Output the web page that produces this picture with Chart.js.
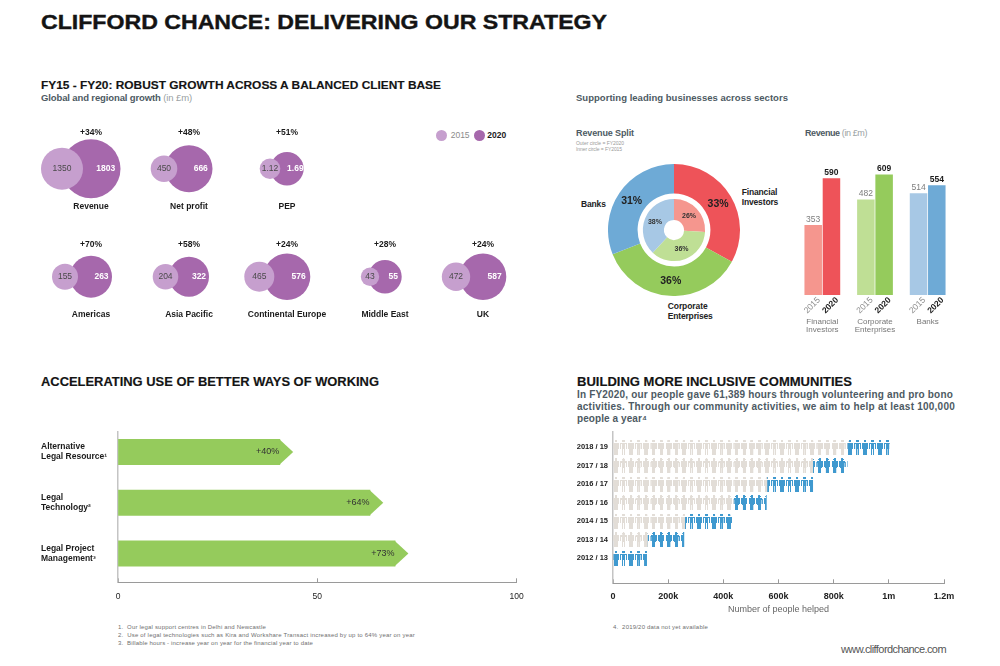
<!DOCTYPE html>
<html>
<head>
<meta charset="utf-8">
<script src="https://cdn.jsdelivr.net/npm/chart.js@4"></script>
<style>
  html, body { margin: 0; background: #fff; }
  #page { position: relative; width: 1000px; height: 666px; overflow: hidden; font-family: "Liberation Sans", sans-serif; }
  canvas { position: absolute; }
  .t { position: absolute; white-space: nowrap; transform: translateY(-50%); line-height: 1; }
  .dot { position: absolute; border-radius: 50%; }
  .light { font-weight: normal; color: #9a9fa3; }
</style>
</head>
<body>
<div id="page"></div>
<script>
// ---- data ----
const bubbleNames = ["Revenue", "Net profit", "PEP", "Americas", "Asia Pacific", "Continental Europe", "Middle East", "UK"];
const growth = [34, 48, 51, 70, 58, 24, 28, 24];
const values2015 = [1350, 450, 1.12, 155, 204, 465, 43, 472];
const values2020 = [1803, 666, 1.69, 263, 322, 576, 55, 587];

const sectors = ["Financial Investors", "Corporate Enterprises", "Banks"];
const splitOuter = [33, 36, 31];
const splitInner = [26, 36, 38];
const sectorYears = ["2015", "2020"];
const revenue2015 = [353, 482, 514];
const revenue2020 = [590, 609, 554];

const workCategories = [["Alternative", "Legal Resource¹"], ["Legal", "Technology²"], ["Legal Project", "Management³"]];
const workPercent = [40, 64, 73];
const workBarEnd = [40.6, 63.2, 69.5];
const workTicks = [0, 50, 100];

const peopleYears = ["2018 / 19", "2017 / 18", "2016 / 17", "2015 / 16", "2014 / 15", "2013 / 14", "2012 / 13"];
const peopleBefore = [849000, 724000, 558000, 437000, 260000, 125000, 0];
const peopleAdded = [153000, 125000, 166000, 119000, 171000, 132000, 122000];

// ---- layout of the bubble pairs (picture pixels) ----
const bubbleCol = [0, 1, 2, 0, 1, 2, 3, 4];
const bubbleRow = [0, 0, 0, 1, 1, 1, 1, 1];
const shift2015 = [29, 25, 17, 26, 23.5, 27.7, 15, 27];
const radius2015 = [21, 13.3, 10.3, 13, 12.8, 15, 9.2, 14.2];
const radius2020 = [29.5, 23.5, 16.7, 21, 20, 23.3, 16.7, 23.3];

const FONT = '"Liberation Sans", sans-serif';
const page = document.getElementById("page");
Chart.defaults.animation = false;
Chart.defaults.responsive = false;
Chart.defaults.font.family = FONT;
Chart.defaults.plugins.legend.display = false;
Chart.defaults.plugins.tooltip.enabled = false;

function txt(x, y, html, size, color, bold, width) {
  const el = document.createElement("div");
  el.className = "t";
  el.style.left = x + "px";
  el.style.top = y + "px";
  el.style.fontSize = size + "px";
  el.style.color = color;
  el.style.fontWeight = bold ? "bold" : "normal";
  el.innerHTML = html;
  page.appendChild(el);
  // original type is tracked wider than Liberation, spread it to the measured width
  if (width) {
    const n = el.textContent.length;
    el.style.letterSpacing = (width - el.getBoundingClientRect().width) / n + "px";
  }
  return el;
}

// the big headings are an extended heavy face: stretch the glyphs instead of tracking
function heading(x, y, text, size, width, stroke) {
  const el = txt(x, y, text, size, "#141414", true);
  const k = width / el.getBoundingClientRect().width;
  el.style.transformOrigin = "left center";
  el.style.transform = `translateY(-50%) scaleX(${k})`;
  el.style.webkitTextStroke = stroke + "px #141414";
}

function dot(cx, cy, r, color) {
  const el = document.createElement("div");
  el.className = "dot";
  el.style.cssText += `left:${cx - r}px;top:${cy - r}px;width:${2 * r}px;height:${2 * r}px;background:${color}`;
  page.appendChild(el);
}

function makeCanvas(left, top, w, h) {
  const c = document.createElement("canvas");
  c.width = w; c.height = h;
  c.style.left = left + "px";
  c.style.top = top + "px";
  c.style.width = w + "px";
  c.style.height = h + "px";
  page.appendChild(c);
  return c;
}

function label(ctx, text, x, y, font, color, align) {
  ctx.save();
  ctx.font = font;
  ctx.fillStyle = color;
  ctx.textAlign = align || "center";
  ctx.textBaseline = "middle";
  ctx.fillText(text, x, y);
  ctx.restore();
}

// ---- headings and notes ----
const BLACK = "#1b1b1b", SLATE = "#4d5a63", NOTE = "#6f6f6f";
heading(41, 21.7, "CLIFFORD CHANCE: DELIVERING OUR STRATEGY", 20.5, 566, 0.4);
heading(41, 86, "FY15 - FY20: ROBUST GROWTH ACROSS A BALANCED CLIENT BASE", 11.5, 400, 0.15);
txt(41, 98.3, 'Global and regional growth <span class="light">(in £m)</span>', 9.5, SLATE, true, 151);
txt(576, 98.3, "Supporting leading businesses across sectors", 9.5, SLATE, true, 212);
txt(576, 132.7, "Revenue Split", 9, SLATE, true, 58);
txt(576, 143, "Outer circle = FY2020", 5, "#9a9a9a", false, 48);
txt(576, 149.3, "Inner circle = FY2015", 5, "#9a9a9a", false, 46);
txt(805, 132.7, 'Revenue <span class="light">(in £m)</span>', 9, SLATE, true, 62);
heading(41, 381.7, "ACCELERATING USE OF BETTER WAYS OF WORKING", 12, 338, 0.15);
heading(577, 382, "BUILDING MORE INCLUSIVE COMMUNITIES", 12, 275, 0.15);
txt(577, 395.3, "In FY2020, our people gave 61,389 hours through volunteering and pro bono", 10, SLATE, true, 376);
txt(577, 407, "activities. Through our community activities, we aim to help at least 100,000", 10, SLATE, true, 378);
txt(577, 419, "people a year⁴", 10, SLATE, true, 70);
txt(118, 626.7, "1.&nbsp; Our legal support centres in Delhi and Newcastle", 6, NOTE, false, 148);
txt(118, 634.6, "2.&nbsp; Use of legal technologies such as Kira and Workshare Transact increased by up to 64% year on year", 6, NOTE, false, 297);
txt(118, 642.5, "3.&nbsp; Billable hours - increase year on year for the financial year to date", 6, NOTE, false, 195);
txt(613, 626.7, "4.&nbsp; 2019/20 data not yet available", 6, NOTE, false, 95);
txt(841, 649, "www.cliffordchance.com", 11, "#555", false, 105);

// ---- growth bubbles ----
const PURPLE_LIGHT = "#c69fce", PURPLE = "#a668ac";
dot(441.7, 135.3, 5.8, PURPLE_LIGHT);
dot(479.3, 135.3, 5.8, PURPLE);
txt(450.7, 135.3, "2015", 8.5, "#8b8b8b", false);
txt(487.3, 135.3, "2020", 8.5, BLACK, true);

const COL_STEP = 98, ROW_STEP = 108;
const bubbleLabels = {
  id: "bubbleLabels",
  afterDatasetsDraw(chart) {
    const ctx = chart.ctx;
    const back = chart.getDatasetMeta(1).data;
    const front = chart.getDatasetMeta(0).data;
    back.forEach((el, i) => {
      const above = bubbleRow[i] === 0 ? 36 : 31.7;
      label(ctx, "+" + growth[i] + "%", el.x, el.y - above, "bold 8.5px " + FONT, BLACK);
      label(ctx, bubbleNames[i], el.x, el.y + 37.5, "bold 8.5px " + FONT, BLACK);
      label(ctx, String(values2020[i]), el.x + radius2020[i] * 0.5, el.y, "bold 8.5px " + FONT, "#fff");
      label(ctx, String(values2015[i]), front[i].x, el.y, "8.5px " + FONT, "#4a4a4a");
    });
  }
};
new Chart(makeCanvas(0, 110, 560, 230), {
  type: "bubble",
  data: {
    datasets: [
      { label: "2015", backgroundColor: PURPLE_LIGHT, borderWidth: 0,
        data: values2015.map((v, i) => ({ x: bubbleCol[i] - shift2015[i] / COL_STEP, y: bubbleRow[i], r: radius2015[i] })) },
      { label: "2020", backgroundColor: PURPLE, borderWidth: 0,
        data: values2020.map((v, i) => ({ x: bubbleCol[i], y: bubbleRow[i], r: radius2020[i] })) }
    ]
  },
  options: {
    layout: { padding: 0, autoPadding: false },
    scales: {
      x: { display: false, min: -91 / COL_STEP, max: (560 - 91) / COL_STEP },
      y: { display: false, reverse: true, min: (110 - 168.7) / ROW_STEP, max: (340 - 168.7) / ROW_STEP }
    }
  },
  plugins: [bubbleLabels]
});

// ---- revenue split doughnut ----
const RED = "#ee5359", RED_L = "#f5968e", GREEN = "#95cb5c", GREEN_L = "#bfdf95", BLUE = "#6eaad6", BLUE_L = "#a7c8e5";
const splitLabels = {
  id: "splitLabels",
  afterDatasetsDraw(chart) {
    chart.getDatasetMeta(0).data.forEach((arc, i) => {
      const p = arc.getProps(["x", "y", "startAngle", "endAngle", "innerRadius", "outerRadius"]);
      const mid = (p.startAngle + p.endAngle) / 2, r = (p.innerRadius + p.outerRadius) / 2;
      label(chart.ctx, splitOuter[i] + "%", p.x + r * Math.cos(mid), p.y + r * Math.sin(mid), "bold 10.5px " + FONT, "#222");
    });
    chart.getDatasetMeta(2).data.forEach((arc, i) => {
      const p = arc.getProps(["x", "y", "startAngle", "endAngle", "innerRadius", "outerRadius"]);
      const mid = (p.startAngle + p.endAngle) / 2, r = (p.innerRadius + p.outerRadius) / 2;
      label(chart.ctx, splitInner[i] + "%", p.x + r * Math.cos(mid), p.y + r * Math.sin(mid), "bold 7px " + FONT, "#333");
    });
  }
};
new Chart(makeCanvas(608, 164, 132, 132), {
  type: "doughnut",
  data: {
    labels: sectors,
    datasets: [
      { data: splitOuter, backgroundColor: [RED, GREEN, BLUE], borderWidth: 0, weight: 29.5 },
      { data: [1], backgroundColor: "rgba(0,0,0,0)", borderWidth: 0, weight: 5.3 },
      { data: splitInner, backgroundColor: [RED_L, GREEN_L, BLUE_L], borderWidth: 0, weight: 21 }
    ]
  },
  options: { cutout: "15.2%", layout: { padding: 0 } },
  plugins: [splitLabels]
});
const SECTOR_INK = "#222";
txt(741.7, 192, "Financial", 8.5, SECTOR_INK, true, 35.5);
txt(741.7, 202, "Investors", 8.5, SECTOR_INK, true, 36.5);
txt(581, 204, "Banks", 8.5, SECTOR_INK, true, 24.7);
txt(667.7, 305.7, "Corporate", 8.5, SECTOR_INK, true, 40);
txt(667.7, 315.7, "Enterprises", 8.5, SECTOR_INK, true, 45);

// ---- revenue bars ----
const barValueLabels = {
  id: "barValueLabels",
  afterDatasetsDraw(chart) {
    const ctx = chart.ctx;
    [0, 1].forEach(ds => {
      const values = ds === 0 ? revenue2015 : revenue2020;
      chart.getDatasetMeta(ds).data.forEach((bar, i) => {
        label(ctx, String(values[i]), bar.x, bar.y - 5.5, (ds ? "bold " : "") + "8.5px " + FONT, ds ? BLACK : "#7d7d7d");
        ctx.save();
        ctx.translate(bar.x - 1, bar.base + 10.5);
        ctx.rotate(-Math.PI / 4);
        label(ctx, sectorYears[ds], 0, 0, (ds ? "bold " : "") + "8.5px " + FONT, ds ? BLACK : "#8b8b8b");
        ctx.restore();
      });
    });
  }
};
// side padding is larger than the margins the tick labels ask for, so the plot keeps its width
new Chart(makeCanvas(746, 160, 258, 190), {
  type: "bar",
  data: {
    labels: [["Financial", "Investors"], ["Corporate", "Enterprises"], ["Banks"]],
    datasets: [
      { label: sectorYears[0], data: revenue2015, backgroundColor: [RED_L, GREEN_L, BLUE_L] },
      { label: sectorYears[1], data: revenue2020, backgroundColor: [RED, GREEN, BLUE] }
    ]
  },
  options: {
    layout: { padding: { left: 50, right: 50 } },
    datasets: { bar: { categoryPercentage: 0.693, barPercentage: 0.96 } },
    scales: {
      y: { display: false, min: 0, max: 135 / 0.198 },
      x: {
        grid: { display: false }, border: { display: false },
        afterFit: s => { s.height = 55; },
        ticks: { padding: 14, maxRotation: 0, color: "#777", font: { size: 8, lineHeight: 1.08 } }
      }
    }
  },
  plugins: [barValueLabels]
});

// ---- better ways of working: arrows ----
const arrowTips = {
  id: "arrowTips",
  afterDatasetsDraw(chart) {
    const ctx = chart.ctx;
    chart.getDatasetMeta(0).data.forEach((bar, i) => {
      const half = bar.height / 2;
      ctx.fillStyle = GREEN;
      ctx.beginPath();
      ctx.moveTo(bar.x - 0.5, bar.y - half);
      ctx.lineTo(bar.x + 13.3, bar.y);
      ctx.lineTo(bar.x - 0.5, bar.y + half);
      ctx.closePath();
      ctx.fill();
      label(ctx, "+" + workPercent[i] + "%", bar.x - 0.5, bar.y, "9px " + FONT, "#333", "right");
    });
  }
};
new Chart(makeCanvas(41, 419, 500, 191), {
  type: "bar",
  data: {
    datasets: [{
      data: workBarEnd.map((v, i) => ({ x: v, y: i })),
      backgroundColor: GREEN,
      barThickness: 25.5
    }]
  },
  options: {
    indexAxis: "y",
    layout: { padding: { top: 12.7, right: 24.3 }, autoPadding: false },
    scales: {
      y: {
        type: "linear", reverse: true, offset: false, bounds: "data", min: -0.4, max: 2.567,
        grid: { display: false, drawTicks: false },
        border: { color: "#c4c4c4", width: 1.5 },
        afterFit: s => { s.width = 77; },
        afterBuildTicks: s => { s.ticks = workCategories.map((c, i) => ({ value: i })); },
        ticks: {
          autoSkip: false, crossAlign: "far", padding: 0,
          color: BLACK, font: { size: 8.5, weight: "bold", lineHeight: 1.2 },
          callback: v => workCategories[v]
        }
      },
      x: {
        type: "linear", min: workTicks[0], max: workTicks[2],
        grid: { drawOnChartArea: false, tickLength: -4, color: "#9a9a9a" },
        border: { color: "#9a9a9a" },
        afterFit: s => { s.height = 27.7; },
        ticks: { stepSize: 50, padding: 13, color: "#222", maxRotation: 0, font: { size: 8.5 } }
      }
    }
  },
  plugins: [arrowTips]
});

// ---- people helped: pictogram fill ----
const ICON_W = 7.545, ICON_ROW = 18.5;
function personTile(color) {
  const c = document.createElement("canvas");
  c.width = 80; c.height = 185;
  const g = c.getContext("2d");
  g.fillStyle = color;
  g.beginPath(); g.ellipse(40, 30, 15, 14, 0, 0, Math.PI * 2); g.fill();
  g.beginPath(); g.roundRect(6, 46, 68, 16, 7); g.fill();
  g.fillRect(20, 50, 40, 62);           // torso
  g.fillRect(6, 52, 11, 56);            // arms
  g.fillRect(63, 52, 11, 56);
  g.fillRect(22, 110, 17, 58);          // legs
  g.fillRect(41, 110, 17, 58);
  return g.createPattern(c, "repeat");
}
const greyPeople = personTile("#e2ddd7");
const bluePeople = personTile("#3f99cf");
const alignPeople = {
  id: "alignPeople",
  afterLayout(chart) {
    const ox = chart.scales.x.getPixelForValue(0) - 0.8;
    const oy = chart.scales.y.getPixelForValue(0) - ICON_ROW / 2;
    const m = new DOMMatrix().translate(ox, oy).scale(ICON_W / 80, ICON_ROW / 185);
    greyPeople.setTransform(m);
    bluePeople.setTransform(m);
  }
};
const kLabel = v => v === 0 ? "0" : v >= 1000000 ? (v / 1000000) + "m" : (v / 1000) + "k";
new Chart(makeCanvas(565, 419, 410, 196), {
  type: "bar",
  data: {
    datasets: [
      { data: peopleBefore.map((v, i) => ({ x: v, y: i })), backgroundColor: greyPeople, barThickness: 16, stack: "p" },
      { data: peopleAdded.map((v, i) => ({ x: v, y: i })), backgroundColor: bluePeople, barThickness: 16, stack: "p" }
    ]
  },
  options: {
    indexAxis: "y",
    layout: { padding: { top: 13, right: 31 }, autoPadding: false },
    scales: {
      y: {
        type: "linear", reverse: true, stacked: true, offset: false, bounds: "data", min: -0.827, max: 7.351,
        grid: { display: false, drawTicks: false },
        border: { color: "#c4c4c4", width: 1.5 },
        afterFit: s => { s.width = 48; },
        afterBuildTicks: s => { s.ticks = peopleYears.map((c, i) => ({ value: i })); },
        ticks: {
          autoSkip: false, padding: 5,
          color: BLACK, font: { size: 7.5, weight: "bold" },
          callback: v => peopleYears[v]
        }
      },
      x: {
        type: "linear", stacked: true, min: 0, max: 1200000,
        grid: { drawOnChartArea: false, tickLength: -4, color: "#9a9a9a" },
        border: { color: "#9a9a9a" },
        afterFit: s => { s.height = 31.7; },
        title: { display: true, text: "Number of people helped", color: "#666", font: { size: 9 }, padding: { top: 3, bottom: 0 } },
        ticks: { stepSize: 200000, padding: 12, color: "#222", maxRotation: 0, font: { size: 9, weight: "bold" }, callback: kLabel }
      }
    }
  },
  plugins: [alignPeople]
});
</script>
</body>
</html>
